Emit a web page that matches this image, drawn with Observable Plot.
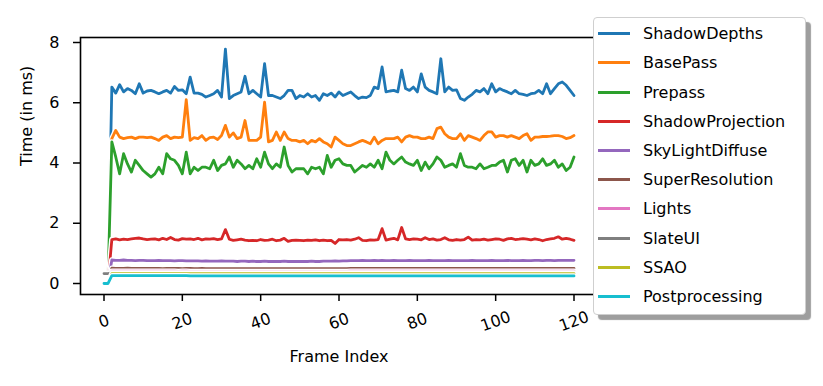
<!DOCTYPE html>
<html><head><meta charset="utf-8">
<script src="https://cdn.jsdelivr.net/npm/d3@7"></script>
<script src="https://cdn.jsdelivr.net/npm/@observablehq/plot@0.6"></script>
<style>
body{margin:0;background:#fff;}
#wrap{position:relative;width:823px;height:386px;font-family:"DejaVu Sans",sans-serif;background:#fff;}
#legend{position:absolute;left:593px;top:17px;width:213px;height:298px;background:#fff;border:1px solid #cfcfcf;border-radius:4px;box-shadow:5px 5px 1px rgba(0,0,0,0.38);box-sizing:border-box;}
.row{position:absolute;left:0;height:20px;display:flex;align-items:center;white-space:nowrap;}
.sw{width:32px;height:3px;margin-left:4px;margin-right:13px;}
.lab{font-size:16px;color:#000;}
</style></head>
<body><div id="wrap"></div>
<script>
const seriesNames = ["ShadowDepths","BasePass","Prepass","ShadowProjection","SkyLightDiffuse","SuperResolution","Lights","SlateUI","SSAO","Postprocessing"];
const seriesColors = ["#1f77b4","#ff7f0e","#2ca02c","#d62728","#9467bd","#8c564b","#e377c2","#7f7f7f","#bcbd22","#17becf"];
const xTicks = [0,20,40,60,80,100,120];
const yTicks = [0,2,4,6,8];

const shadowDepths = [0,0,
6.52,6.32,6.60,6.36,6.47,6.41,6.30,6.63,6.32,6.39,
6.41,6.36,6.30,6.36,6.41,6.32,6.54,6.41,6.43,6.30,
6.85,6.32,6.32,6.28,6.19,6.24,6.30,6.41,6.19,7.78,
6.14,6.24,6.30,6.36,6.88,6.30,6.41,6.30,6.19,7.30,
6.24,6.24,6.19,6.14,6.24,6.41,6.41,6.14,6.24,6.19,
6.30,6.19,6.24,6.08,6.30,6.24,6.32,6.19,6.36,6.24,
6.30,6.36,6.24,6.14,6.19,6.17,6.24,6.52,6.47,7.19,
6.36,6.39,6.41,6.36,7.08,6.47,6.41,6.52,6.36,6.96,
6.52,6.41,6.36,6.30,7.46,6.36,6.52,6.41,6.43,6.14,
6.08,6.19,6.28,6.41,6.36,6.47,6.30,6.63,6.36,6.47,
6.41,6.36,6.30,6.41,6.30,6.28,6.24,6.30,6.32,6.41,
6.30,6.63,6.30,6.47,6.63,6.69,6.58,6.41,6.24];

const basePass = [0,0,
4.81,5.08,4.86,4.81,4.84,4.86,4.81,4.86,4.86,4.84,
4.86,4.81,4.75,4.86,4.91,4.81,4.86,4.84,4.86,6.10,
4.75,4.84,4.81,4.91,4.75,4.84,4.86,4.78,4.91,5.25,
4.86,5.00,4.81,4.86,5.41,4.75,4.75,4.75,4.86,6.02,
4.70,4.75,5.03,4.75,5.03,4.81,4.75,4.75,4.70,4.75,
4.64,4.75,4.70,4.81,4.70,4.64,4.53,4.86,4.75,4.64,
4.58,4.58,4.64,4.70,4.75,4.70,4.64,4.86,4.64,4.75,
4.81,4.81,4.81,4.86,4.70,4.86,4.91,4.86,4.86,4.81,
4.81,4.86,4.81,5.14,5.19,4.97,4.86,4.81,4.81,4.97,
4.75,4.91,4.86,4.81,4.75,4.91,5.03,5.03,4.86,4.91,
4.91,4.86,4.91,4.86,4.81,4.91,4.97,4.75,4.86,4.86,
4.88,4.88,4.89,4.91,4.91,4.88,4.81,4.84,4.91];

const prepass = [0,0,
4.70,4.20,3.64,4.31,3.97,3.70,4.09,3.92,3.75,3.64,
3.53,3.64,3.86,3.64,4.31,4.14,4.09,3.92,3.64,4.36,
3.64,3.86,3.75,3.86,3.86,3.81,4.09,3.75,3.92,3.97,
4.20,3.86,4.09,3.97,3.81,3.92,3.81,4.14,3.86,4.36,
3.97,3.81,3.97,3.86,4.53,3.92,3.70,3.81,3.81,3.81,
3.64,3.86,3.81,3.86,3.64,4.25,3.86,4.09,4.14,3.97,
3.92,3.92,3.70,3.81,3.92,3.86,3.97,3.86,4.09,3.81,
4.36,4.09,3.97,4.09,4.20,4.03,3.97,3.92,4.09,3.75,
4.03,3.81,3.97,4.20,4.09,3.86,3.92,3.97,3.86,4.31,
3.92,3.86,3.86,3.81,3.97,3.81,3.86,3.92,3.92,4.03,
4.09,3.70,4.09,4.14,3.92,4.09,3.70,4.09,3.92,3.97,
4.14,3.92,3.97,4.09,3.86,3.97,3.75,3.86,4.20];

const shadowProjection = [0,0,
1.46,1.48,1.45,1.47,1.46,1.48,1.50,1.51,1.48,1.46,
1.47,1.48,1.45,1.50,1.46,1.53,1.46,1.44,1.49,1.47,
1.48,1.46,1.50,1.45,1.48,1.47,1.49,1.46,1.48,1.79,
1.47,1.43,1.45,1.47,1.44,1.42,1.43,1.42,1.46,1.43,
1.44,1.47,1.42,1.44,1.50,1.40,1.43,1.44,1.43,1.42,
1.44,1.43,1.45,1.42,1.44,1.42,1.43,1.33,1.46,1.45,
1.46,1.44,1.47,1.52,1.43,1.42,1.45,1.44,1.46,1.82,
1.44,1.47,1.50,1.45,1.86,1.48,1.46,1.48,1.47,1.45,
1.52,1.46,1.48,1.44,1.46,1.52,1.45,1.43,1.46,1.44,
1.46,1.54,1.44,1.46,1.45,1.47,1.44,1.46,1.48,1.47,
1.43,1.48,1.50,1.46,1.47,1.49,1.47,1.45,1.48,1.46,
1.42,1.46,1.48,1.50,1.55,1.47,1.50,1.47,1.43];

const skyLightDiffuse = [0,0,
0.78,0.77,0.77,0.78,0.77,0.77,0.76,0.77,0.77,0.76,
0.76,0.76,0.77,0.76,0.76,0.76,0.75,0.76,0.76,0.75,
0.75,0.75,0.75,0.74,0.75,0.74,0.74,0.74,0.75,0.74,
0.74,0.74,0.73,0.74,0.74,0.73,0.74,0.73,0.73,0.74,
0.73,0.73,0.73,0.73,0.74,0.73,0.73,0.73,0.73,0.73,
0.73,0.74,0.73,0.73,0.74,0.74,0.74,0.75,0.74,0.75,
0.75,0.76,0.76,0.76,0.77,0.76,0.76,0.77,0.76,0.77,
0.76,0.76,0.77,0.76,0.76,0.76,0.77,0.76,0.76,0.76,
0.76,0.77,0.76,0.76,0.76,0.76,0.77,0.76,0.76,0.76,
0.76,0.76,0.77,0.76,0.76,0.76,0.76,0.77,0.76,0.76,
0.76,0.77,0.76,0.76,0.76,0.77,0.76,0.76,0.77,0.77,
0.76,0.77,0.77,0.76,0.77,0.77,0.77,0.77,0.77];

const superResolution = [0,0,
0.51,0.50,0.50,0.50,0.51,0.50,0.50,0.50,0.50,0.50,
0.50,0.50,0.50,0.49,0.50,0.50,0.50,0.50,0.49,0.50,
0.50,0.49,0.49,0.50,0.49,0.49,0.49,0.49,0.49,0.49,
0.49,0.49,0.49,0.49,0.49,0.49,0.49,0.49,0.49,0.49,
0.49,0.49,0.49,0.49,0.49,0.49,0.49,0.49,0.49,0.49,
0.49,0.49,0.49,0.49,0.49,0.49,0.49,0.49,0.49,0.49,
0.49,0.50,0.50,0.50,0.50,0.50,0.50,0.50,0.50,0.50,
0.50,0.50,0.50,0.50,0.50,0.50,0.50,0.50,0.50,0.50,
0.50,0.50,0.50,0.50,0.50,0.50,0.50,0.50,0.50,0.50,
0.50,0.50,0.50,0.50,0.50,0.50,0.50,0.50,0.50,0.50,
0.50,0.50,0.50,0.50,0.50,0.50,0.50,0.50,0.50,0.50,
0.50,0.50,0.50,0.50,0.50,0.50,0.50,0.50,0.50];

const lights = [0,0,
0.41,0.41,0.41,0.41,0.41,0.41,0.41,0.41,0.41,0.41,
0.41,0.41,0.41,0.41,0.41,0.41,0.41,0.40,0.41,0.41,
0.40,0.40,0.40,0.40,0.40,0.40,0.40,0.40,0.40,0.40,
0.40,0.40,0.40,0.40,0.40,0.40,0.40,0.40,0.40,0.40,
0.40,0.40,0.40,0.40,0.40,0.40,0.40,0.40,0.40,0.40,
0.40,0.40,0.40,0.40,0.40,0.40,0.40,0.40,0.40,0.40,
0.40,0.41,0.41,0.41,0.41,0.41,0.41,0.41,0.41,0.41,
0.41,0.41,0.41,0.41,0.41,0.41,0.41,0.41,0.41,0.41,
0.41,0.41,0.41,0.41,0.41,0.41,0.41,0.41,0.41,0.41,
0.41,0.41,0.41,0.41,0.41,0.41,0.41,0.41,0.41,0.41,
0.41,0.41,0.41,0.41,0.41,0.41,0.41,0.41,0.41,0.41,
0.41,0.41,0.41,0.41,0.41,0.41,0.41,0.41,0.41];

const slateUI = [0.33,0.33,
0.35,0.35,0.35,0.35,0.35,0.35,0.35,0.35,0.35,0.35,
0.35,0.35,0.35,0.35,0.35,0.35,0.35,0.35,0.35,0.35,
0.35,0.35,0.35,0.35,0.35,0.35,0.35,0.35,0.35,0.35,
0.35,0.35,0.35,0.35,0.35,0.35,0.35,0.35,0.35,0.35,
0.35,0.35,0.35,0.35,0.35,0.35,0.35,0.35,0.35,0.35,
0.35,0.35,0.35,0.35,0.35,0.35,0.35,0.35,0.35,0.35,
0.35,0.35,0.35,0.35,0.35,0.35,0.35,0.35,0.35,0.35,
0.35,0.35,0.35,0.35,0.35,0.35,0.35,0.35,0.35,0.35,
0.35,0.35,0.35,0.35,0.35,0.35,0.35,0.35,0.35,0.35,
0.35,0.35,0.35,0.35,0.35,0.35,0.35,0.35,0.35,0.35,
0.35,0.35,0.35,0.35,0.35,0.35,0.35,0.35,0.35,0.35,
0.35,0.35,0.35,0.35,0.35,0.35,0.35,0.35,0.35];

const ssao = [0,0,
0.33,0.33,0.33,0.33,0.33,0.33,0.33,0.33,0.33,0.33,
0.33,0.33,0.33,0.33,0.33,0.33,0.33,0.33,0.33,0.33,
0.33,0.33,0.33,0.33,0.33,0.33,0.33,0.33,0.33,0.33,
0.33,0.33,0.33,0.33,0.33,0.33,0.33,0.33,0.33,0.33,
0.33,0.33,0.33,0.33,0.33,0.33,0.33,0.33,0.33,0.33,
0.33,0.33,0.33,0.33,0.33,0.33,0.33,0.33,0.33,0.33,
0.33,0.33,0.33,0.33,0.33,0.33,0.33,0.33,0.33,0.33,
0.33,0.33,0.33,0.33,0.33,0.33,0.33,0.33,0.33,0.33,
0.33,0.33,0.33,0.33,0.33,0.33,0.33,0.33,0.33,0.33,
0.33,0.33,0.33,0.33,0.33,0.33,0.33,0.33,0.33,0.33,
0.33,0.33,0.33,0.33,0.33,0.33,0.33,0.33,0.33,0.33,
0.33,0.33,0.33,0.33,0.33,0.33,0.33,0.33,0.33];

const postprocessing = [0,0,
0.26,0.26,0.26,0.26,0.26,0.26,0.26,0.26,0.26,0.26,
0.26,0.26,0.26,0.26,0.26,0.26,0.26,0.26,0.26,0.26,
0.25,0.25,0.25,0.25,0.25,0.25,0.25,0.25,0.25,0.25,
0.25,0.25,0.25,0.25,0.25,0.25,0.25,0.25,0.25,0.25,
0.25,0.25,0.25,0.25,0.25,0.25,0.25,0.25,0.25,0.25,
0.25,0.25,0.25,0.25,0.25,0.25,0.25,0.25,0.25,0.25,
0.25,0.25,0.25,0.25,0.25,0.25,0.25,0.25,0.25,0.25,
0.25,0.25,0.25,0.25,0.25,0.25,0.25,0.25,0.25,0.25,
0.25,0.25,0.25,0.25,0.25,0.25,0.25,0.25,0.25,0.25,
0.25,0.25,0.25,0.25,0.25,0.25,0.25,0.25,0.25,0.25,
0.25,0.25,0.25,0.25,0.25,0.25,0.25,0.25,0.25,0.25,
0.25,0.25,0.25,0.25,0.25,0.25,0.25,0.25,0.25];

const seriesValues = [shadowDepths, basePass, prepass, shadowProjection, skyLightDiffuse, superResolution, lights, slateUI, ssao, postprocessing];
const frames = d3.range(shadowDepths.length);

const series = seriesNames.map((name, k) => ({
  name, color: seriesColors[k],
  rows: seriesValues[k].map((v, i) => ({frame: frames[i], value: v}))
}));

const lineMarks = series.flatMap(s => [
  Plot.line(s.rows, {x: "frame", y: "value", stroke: "white", strokeWidth: 5.5, strokeLinejoin: "round", strokeLinecap: "round"}),
  Plot.line(s.rows, {x: "frame", y: "value", stroke: s.color, strokeWidth: 2.8, strokeLinejoin: "round", strokeLinecap: "round"})
]);

const chart = Plot.plot({
  width: 823, height: 386,
  marginLeft: 80, marginRight: 226, marginTop: 37, marginBottom: 92,
  style: {fontFamily: "DejaVu Sans, sans-serif", fontSize: "16px", background: "white", color: "black"},
  x: {domain: [-6, 126]},
  y: {domain: [-0.365, 8.166]},
  marks: [
    ...lineMarks,
    Plot.frame({stroke: "black", strokeWidth: 1.6}),
    Plot.axisY({ticks: yTicks, tickSize: 7, tickPadding: 14, tickFormat: d => String(d), fontSize: 16, label: null, strokeWidth: 1.5}),
    Plot.axisX({ticks: xTicks, tickSize: 7, tickFormat: () => "", label: null, strokeWidth: 1.5}),
    Plot.text(xTicks, {x: d => d, text: d => String(d), frameAnchor: "bottom", dy: 27, rotate: -20, lineAnchor: "middle", textAnchor: "middle", fontSize: 16}),
    Plot.text(["Frame Index"], {text: d => d, frameAnchor: "bottom", dy: 62, lineAnchor: "middle", fontSize: 16}),
    Plot.text(["Time (in ms)"], {text: d => d, frameAnchor: "left", dx: -54, rotate: -90, lineAnchor: "middle", fontSize: 16})
  ]
});

const wrap = document.getElementById("wrap");
wrap.appendChild(chart);

const legend = document.createElement("div");
legend.id = "legend";
series.forEach((s, i) => {
  const row = document.createElement("div");
  row.className = "row";
  row.style.top = (5.7 + 29.2 * i) + "px";
  const sw = document.createElement("div");
  sw.className = "sw";
  sw.style.background = s.color;
  const lab = document.createElement("span");
  lab.className = "lab";
  lab.textContent = s.name;
  row.appendChild(sw); row.appendChild(lab);
  legend.appendChild(row);
});
wrap.appendChild(legend);
</script>
</body></html>
